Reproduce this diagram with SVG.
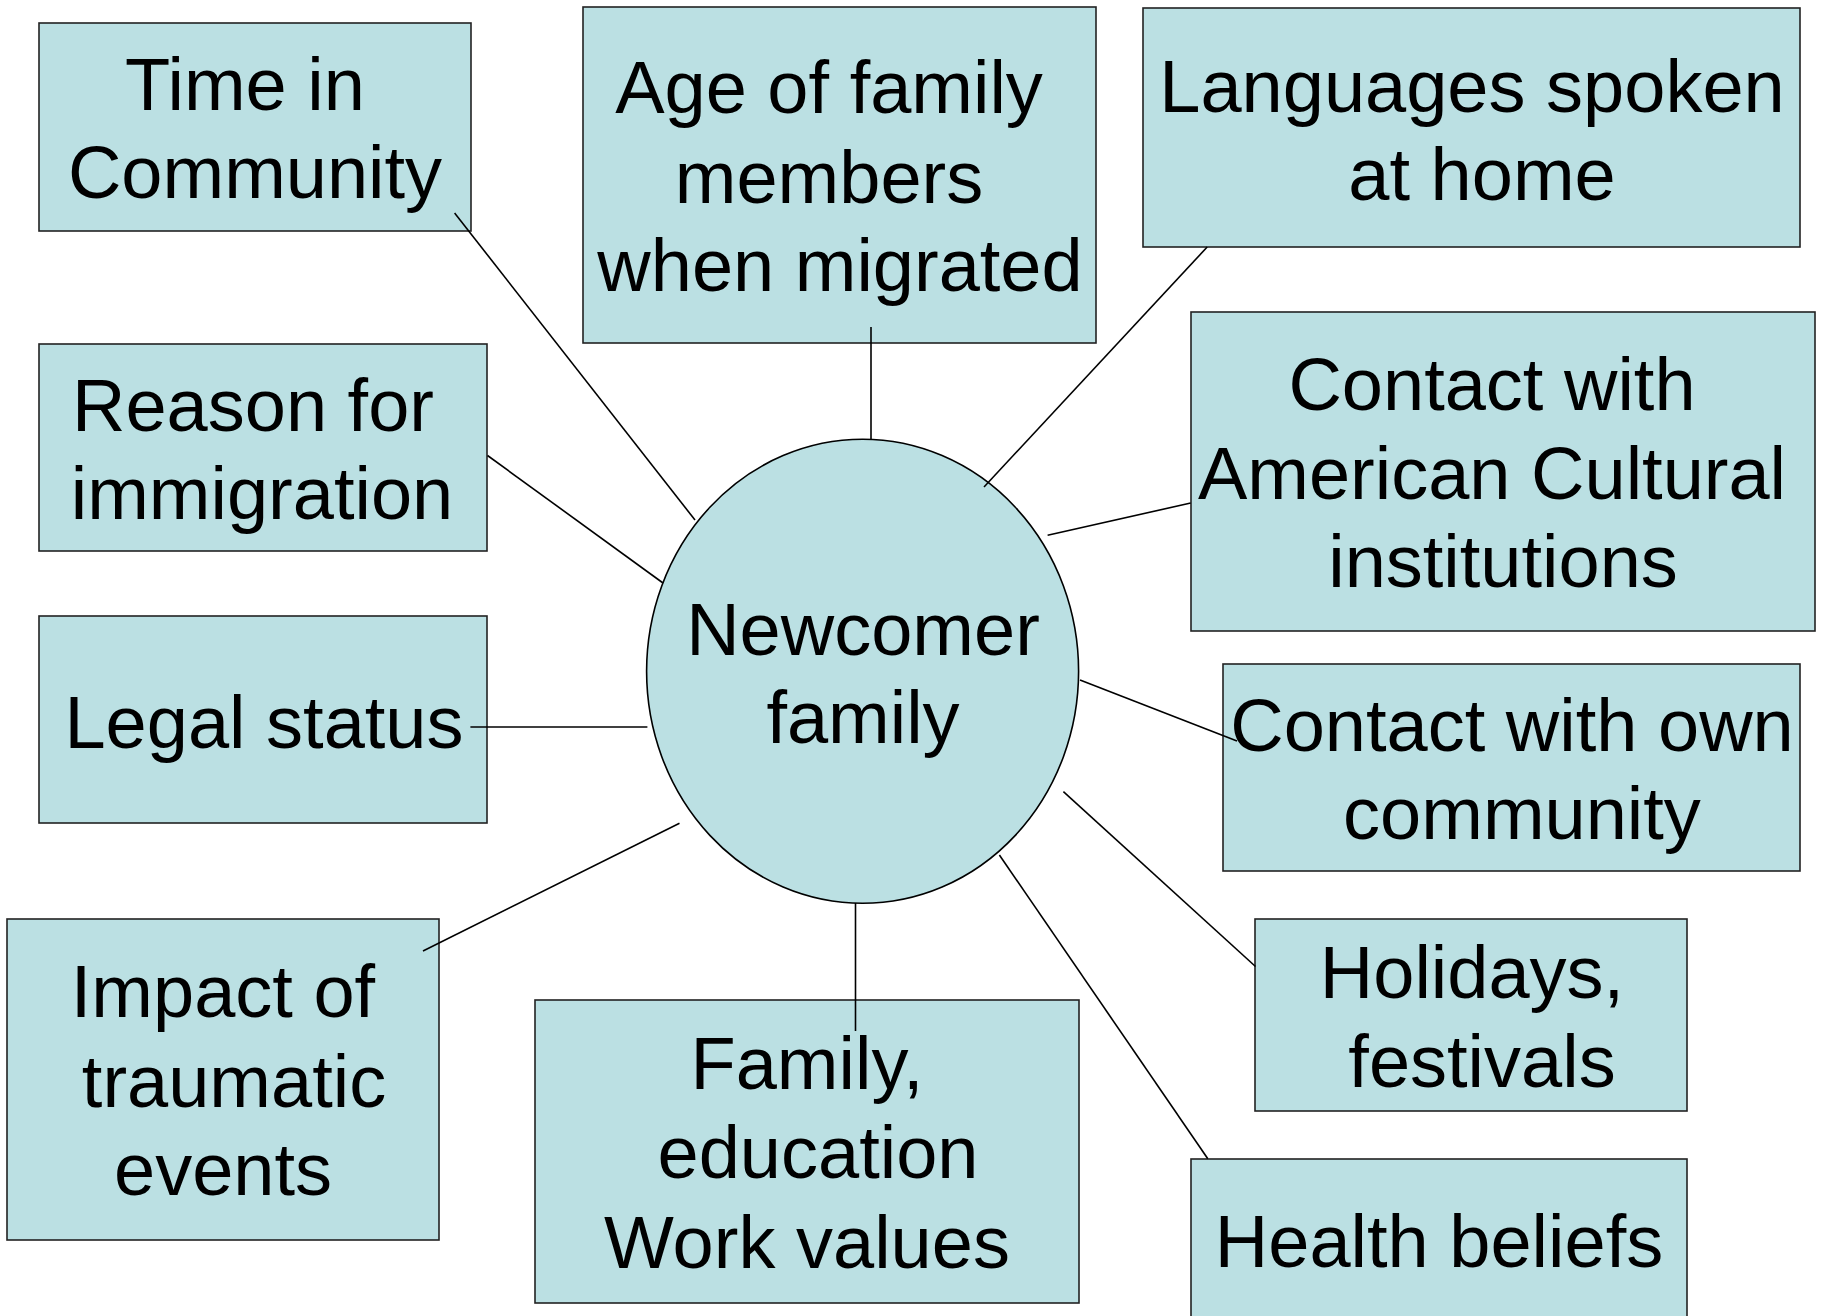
<svg xmlns="http://www.w3.org/2000/svg" width="1823" height="1316" viewBox="0 0 1823 1316">
<style>
.box{fill:#BBE0E3;stroke:#222;stroke-width:1.6}
.t{font-family:"Liberation Sans",Arial,sans-serif;font-size:74px;fill:#000;text-anchor:middle}
.c{stroke:#000;stroke-width:1.6;fill:none}
</style>
<rect width="1823" height="1316" fill="#fff"/>
<g id="time">
<rect class="box" x="39" y="23" width="432" height="208"/>
<text class="t" x="245" y="110">Time in</text>
<text class="t" x="255" y="198">Community</text>
</g>
<g id="age">
<rect class="box" x="583" y="7" width="513" height="336"/>
<text class="t" x="829" y="113">Age of family</text>
<text class="t" x="829" y="203">members</text>
<text class="t" x="840" y="291">when migrated</text>
</g>
<g id="languages">
<rect class="box" x="1143" y="8" width="657" height="239"/>
<text class="t" x="1472" y="112">Languages spoken</text>
<text class="t" x="1482" y="200">at home</text>
</g>
<g id="reason">
<rect class="box" x="39" y="344" width="448" height="207"/>
<text class="t" x="253" y="431">Reason for</text>
<text class="t" x="262" y="519">immigration</text>
</g>
<g id="american">
<rect class="box" x="1191" y="312" width="624" height="319"/>
<text class="t" x="1492" y="410">Contact with</text>
<text class="t" x="1492" y="499">American Cultural</text>
<text class="t" x="1503" y="587">institutions</text>
</g>
<g id="legal">
<rect class="box" x="39" y="616" width="448" height="207"/>
<text class="t" x="264" y="748">Legal status</text>
</g>
<g id="own">
<rect class="box" x="1223" y="664" width="577" height="207"/>
<text class="t" x="1512" y="751">Contact with own</text>
<text class="t" x="1522" y="839">community</text>
</g>
<g id="newcomer">
<ellipse class="box" cx="862.6" cy="671.3" rx="216" ry="232" style="stroke:#000"/>
<text class="t" x="863" y="655">Newcomer</text>
<text class="t" x="863" y="743">family</text>
</g>
<g id="impact">
<rect class="box" x="7" y="919" width="432" height="321"/>
<text class="t" x="223" y="1017">Impact of</text>
<text class="t" x="234" y="1107">traumatic</text>
<text class="t" x="223" y="1195">events</text>
</g>
<g id="family">
<rect class="box" x="535" y="1000" width="544" height="303"/>
<text class="t" x="807" y="1089">Family,</text>
<text class="t" x="818" y="1178">education</text>
<text class="t" x="807" y="1268">Work values</text>
</g>
<g id="holidays">
<rect class="box" x="1255" y="919" width="432" height="192"/>
<text class="t" x="1472" y="998">Holidays,</text>
<text class="t" x="1482" y="1087">festivals</text>
</g>
<g id="health">
<rect class="box" x="1191" y="1159" width="496" height="180"/>
<text class="t" x="1439" y="1267">Health beliefs</text>
</g>
<g id="connectors">
<line class="c" x1="454.6" y1="213" x2="695" y2="520"/>
<line class="c" x1="487.5" y1="455.5" x2="663" y2="583"/>
<line class="c" x1="470.4" y1="727" x2="647.4" y2="727"/>
<line class="c" x1="423" y1="951" x2="679.5" y2="823.2"/>
<line class="c" x1="871" y1="327" x2="871" y2="439.5"/>
<line class="c" x1="1207.2" y1="247" x2="984" y2="487"/>
<line class="c" x1="1047.6" y1="535.3" x2="1190.7" y2="503"/>
<line class="c" x1="1080" y1="680" x2="1237" y2="741"/>
<line class="c" x1="1063.4" y1="791.7" x2="1255.5" y2="966.5"/>
<line class="c" x1="999.4" y1="855" x2="1207.8" y2="1158.7"/>
<line class="c" x1="855.5" y1="903" x2="855.5" y2="1031"/>
</g>
</svg>
